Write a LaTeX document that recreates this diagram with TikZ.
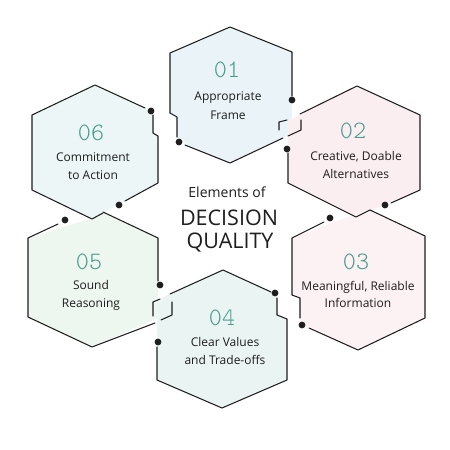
\documentclass[tikz,border=0pt]{standalone}
\usepackage{fontspec}
\setmainfont{Open Sans}
\newfontfamily\numfont{Latin Modern Mono Light}
\definecolor{ink}{HTML}{1E1E1E}
\definecolor{tealnum}{HTML}{4B9B8E}
\definecolor{fa}{HTML}{EAF4F8}
\definecolor{fb}{HTML}{FBEEF1}
\definecolor{fc}{HTML}{FCF1F3}
\definecolor{fd}{HTML}{EAF5F3}
\definecolor{fe}{HTML}{EEF6F0}
\definecolor{ff}{HTML}{ECF6F6}
\begin{document}
\begin{tikzpicture}[x=1pt,y=-1pt,
  edge/.style={line width=1.05pt, draw=ink, line join=round, line cap=round},
  dotmark/.style={fill=ink},
  num/.style={font=\numfont\fontsize{25}{25}\selectfont, text=tealnum, anchor=base, inner sep=0pt},
  lbl/.style={font=\fontsize{12}{14}\selectfont, text=ink, anchor=base, inner sep=0pt},
  ctitle/.style={font=\fontsize{14}{16}\selectfont, text=ink, anchor=base, inner sep=0pt},
  cbig/.style={font=\fontsize{21.5}{24}\selectfont, text=ink, anchor=base, inner sep=0pt}
]
\useasboundingbox (0,0) rectangle (450,450);
\fill[white] (0,0) rectangle (450,450);

% fills
\fill[fa] (170,53) -- (230,27) -- (292,52) -- (292,133) -- (230,163) -- (177,140) -- (177,117) -- (170,113) -- cycle;
\fill[fb] (357,86) -- (420,115) -- (420,190) -- (356,217) -- (288,183) -- (288,121) -- cycle;
\fill[fc] (370,210) -- (425,236) -- (425,318) -- (358,350) -- (300,322) -- (300,298) -- (292,295) -- (292,238) -- (356,214) -- cycle;
\fill[fd] (223,270) -- (277,294) -- (277,315) -- (287,319) -- (287,380) -- (222,408) -- (157,380) -- (157,300) -- cycle;
\fill[fe] (103,212) -- (158,238) -- (158,318) -- (92,347) -- (28,317) -- (28,238) -- (92,218) -- cycle;
\fill[ff] (95,85) -- (153,112) -- (153,133) -- (158,136) -- (158,183) -- (92,219) -- (32,190) -- (32,115) -- cycle;

% hexagon 01
\draw[edge] (170,113) -- (170,53) -- (230,27) -- (292,52) -- (292,96);
\draw[edge] (170,113) -- (177,117) -- (177,137);
\draw[edge] (185,145) -- (230,163) -- (283,138);
\draw[edge] (288,136) -- (301,130) -- (301,120);
\fill[dotmark] (292,100) circle (3.4);
\fill[dotmark] (179,142) circle (3.4);

% hexagon 02
\draw[edge] (300,114) -- (357,86) -- (420,115) -- (420,190) -- (391,203);
\draw[edge] (287,120) -- (279,122) -- (279,130);
\draw[edge] (288,153) -- (288,183) -- (356,217) -- (370,210);
\fill[dotmark] (385,205) circle (3.4);
\fill[dotmark] (287,149) circle (3.4);

% hexagon 03
\draw[edge] (370,210) -- (425,236) -- (425,318) -- (358,350) -- (309,328);
\draw[edge] (300,318) -- (300,298) -- (292,295) -- (292,238) -- (324,222);
\fill[dotmark] (302,325) circle (3.4);
\fill[dotmark] (330,218) circle (3.4);

% hexagon 04
\draw[edge] (271,292) -- (223,270) -- (170,294);
\draw[edge] (160,299) -- (153,302) -- (153,316);
\draw[edge] (277,298) -- (277,315) -- (287,319) -- (287,380) -- (222,408) -- (157,380) -- (157,347);
\fill[dotmark] (275,293) circle (3.4);
\fill[dotmark] (158,342) circle (3.4);

% hexagon 05
\draw[edge] (103,212) -- (158,238) -- (158,281);
\draw[edge] (172,302) -- (172,315) -- (161,320);
\draw[edge] (155,323) -- (92,347) -- (28,317) -- (28,238) -- (58,224);
\fill[dotmark] (160,285) circle (3.4);
\fill[dotmark] (65,220) circle (3.4);

% hexagon 06
\draw[edge] (145,108) -- (95,85) -- (32,115) -- (32,190) -- (92,219) -- (103,213);
\draw[edge] (153,115) -- (153,133) -- (158,136) -- (158,183) -- (125,201);
\fill[dotmark] (151,111) circle (3.4);
\fill[dotmark] (119,205) circle (3.4);

% texts
\node[num] (n1) at (227,77) {01};
\node[lbl] (l1a) at (228,100) {Appropriate};
\node[lbl] (l1b) at (228,119) {Frame};

\node[num] (n2) at (353,138) {02};
\node[lbl] (l2a) at (356,160) {Creative, Doable};
\node[lbl] (l2b) at (356,178) {Alternatives};

\node[num] (n3) at (356,269) {03};
\node[lbl] (l3a) at (358,290) {Meaningful, Reliable};
\node[lbl] (l3b) at (358,307) {Information};

\node[num] (n4) at (222,325) {04};
\node[lbl] (l4a) at (225,346) {Clear Values};
\node[lbl] (l4b) at (225,364) {and Trade-offs};

\node[num] (n5) at (89,269) {05};
\node[lbl] (l5a) at (91,289) {Sound};
\node[lbl] (l5b) at (91,307) {Reasoning};

\node[num] (n6) at (91,140) {06};
\node[lbl] (l6a) at (93,161) {Commitment};
\node[lbl] (l6b) at (93,179) {to Action};

\node[ctitle] (ct) at (227,197) {Elements of};
\node[cbig] (cd) at (229,225) {DECISION};
\node[cbig] (cq) at (230,248) {QUALITY};
\end{tikzpicture}
\end{document}
